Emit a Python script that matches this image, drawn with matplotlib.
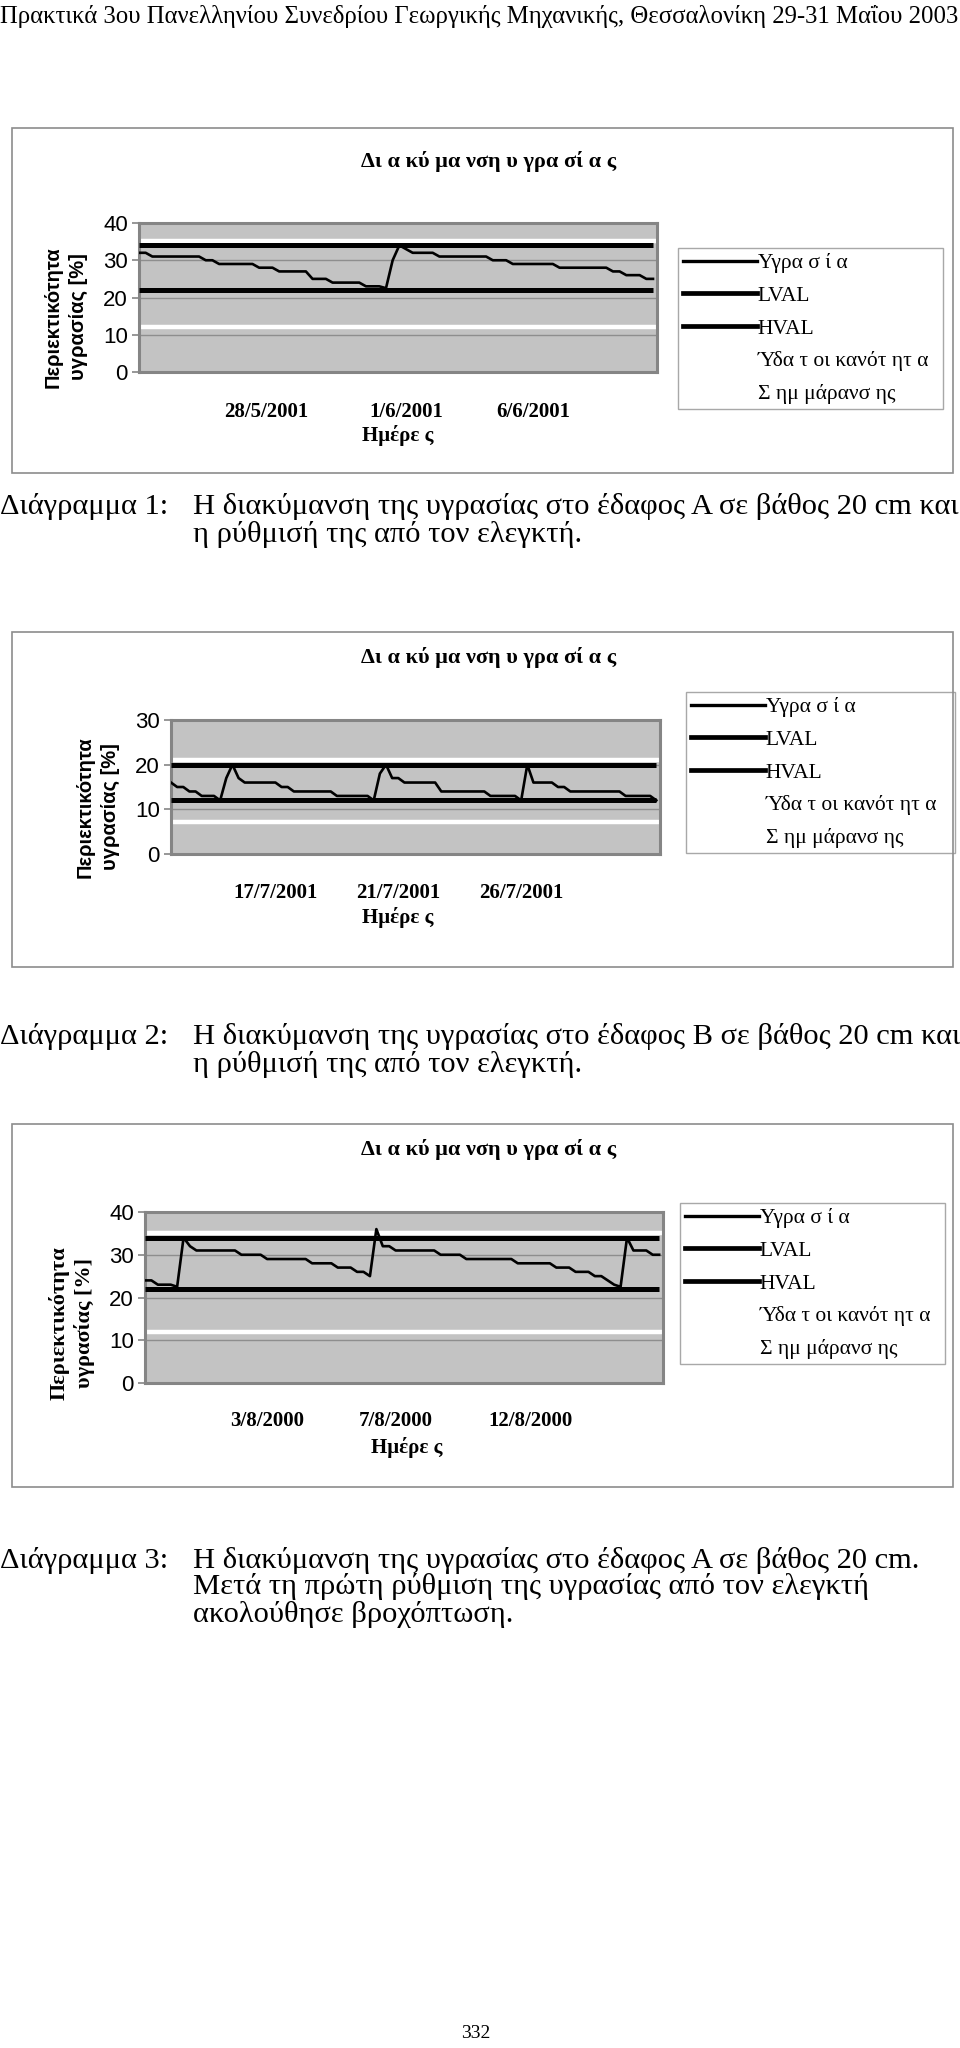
import matplotlib
matplotlib.use('Agg')
import matplotlib.pyplot as plt
from matplotlib.patches import Rectangle
from matplotlib.lines import Line2D

plt.rcParams['font.family'] = ['Liberation Serif', 'DejaVu Serif']

# ---------------- data ----------------
header_text = "Πρακτικά 3ου Πανελληνίου Συνεδρίου Γεωργικής Μηχανικής, Θεσσαλονίκη 29-31 Μαΐου 2003"
chart_title = "Δι α κύ μα νση υ γρα σί α ς"
ylabel_text = "Περιεκτικότητα\nυγρασίας [%]"
xlabel_text = "Ημέρε ς"
legend_labels = ["Υγρα σ ί α", "LVAL", "HVAL", "Ύδα τ οι κανότ ητ α", "Σ ημ μάρανσ ης"]

# Chart 1
m1 = [32, 32,
      31, 31, 31, 31, 31, 31, 31, 31,
      30, 30,
      29, 29, 29, 29, 29, 29,
      28, 28, 28,
      27, 27, 27, 27, 27,
      25, 25, 25,
      24, 24, 24, 24, 24,
      23, 23, 23,
      22.5, 30, 34, 33,
      32, 32, 32, 32,
      31, 31, 31, 31, 31, 31, 31, 31,
      30, 30, 30,
      29, 29, 29, 29, 29, 29, 29,
      28, 28, 28, 28, 28, 28, 28, 28,
      27, 27,
      26, 26, 26,
      25, 25]
c1_lval, c1_hval, c1_fc, c1_wp = 22, 34, 35.3, 12
c1_yticks = [0, 10, 20, 30, 40]
c1_tick_idx = [19, 40, 59]
c1_tick_lab = ["28/5/2001", "1/6/2001", "6/6/2001"]

# Chart 2
m2 = [16,
      15, 15,
      14, 14,
      13, 13, 13,
      12, 17, 20, 17,
      16, 16, 16, 16, 16, 16,
      15, 15,
      14, 14, 14, 14, 14, 14, 14,
      13, 13, 13, 13, 13, 13,
      12, 18, 20,
      17, 17,
      16, 16, 16, 16, 16, 16,
      14, 14, 14, 14, 14, 14, 14, 14,
      13, 13, 13, 13, 13,
      12, 20,
      16, 16, 16, 16,
      15, 15,
      14, 14, 14, 14, 14, 14, 14, 14, 14,
      13, 13, 13, 13, 13,
      12]
c2_lval, c2_hval, c2_fc, c2_wp = 12, 20, 21.1, 7.1
c2_yticks = [0, 10, 20, 30]
c2_tick_idx = [17, 37, 57]
c2_tick_lab = ["17/7/2001", "21/7/2001", "26/7/2001"]

# Chart 3
m3 = [24, 24,
      23, 23, 23,
      22.5, 34, 32,
      31, 31, 31, 31, 31, 31, 31,
      30, 30, 30, 30,
      29, 29, 29, 29, 29, 29, 29,
      28, 28, 28, 28,
      27, 27, 27,
      26, 26,
      25, 36,
      32, 32,
      31, 31, 31, 31, 31, 31, 31,
      30, 30, 30, 30,
      29, 29, 29, 29, 29, 29, 29, 29,
      28, 28, 28, 28, 28, 28,
      27, 27, 27,
      26, 26, 26,
      25, 25,
      24, 23, 22.5, 34,
      31, 31, 31,
      30, 30]
c3_lval, c3_hval, c3_fc, c3_wp = 22, 34, 35, 12
c3_yticks = [0, 10, 20, 30, 40]
c3_tick_idx = [19, 39, 60]
c3_tick_lab = ["3/8/2000", "7/8/2000", "12/8/2000"]

captions = [
    ("Διάγραμμα 1:", ["Η διακύμανση της υγρασίας στο έδαφος Α σε βάθος 20 cm και",
                      "η ρύθμισή της από τον ελεγκτή."]),
    ("Διάγραμμα 2:", ["Η διακύμανση της υγρασίας στο έδαφος Β σε βάθος 20 cm και",
                      "η ρύθμισή της από τον ελεγκτή."]),
    ("Διάγραμμα 3:", ["Η διακύμανση της υγρασίας στο έδαφος Α σε βάθος 20 cm.",
                      "Μετά τη πρώτη ρύθμιση της υγρασίας από τον ελεγκτή",
                      "ακολούθησε βροχόπτωση."]),
]
page_number = "332"

# ---------------- layout helpers ----------------
W, H = 960, 2048
fig = plt.figure(figsize=(W / 100, H / 100), dpi=100)
fig.patch.set_facecolor('white')
renderer = fig.canvas.get_renderer()


def fx(x):
    return x / W


def fy(y):
    return 1 - y / H


def ptext(x, y, s, **kw):
    kw.setdefault('va', 'center')
    return fig.text(fx(x), fy(y), s, **kw)


def fit_width(t, target):
    bb = t.get_window_extent(renderer)
    t.set_fontsize(t.get_fontsize() * target / bb.width)
    return t.get_fontsize()


def box(x0, y0, x1, y1, ec='#8c8c8c', lw=1.2):
    r = Rectangle((fx(x0), fy(y1)), fx(x1) - fx(x0), fy(y0) - fy(y1),
                  transform=fig.transFigure, fill=False, ec=ec, lw=lw)
    fig.add_artist(r)


# header
t = ptext(0, 17, header_text, ha='left', family='Liberation Serif', fontsize=18)
fit_width(t, 957)


def draw_chart(moist, lval, hval, fc, wp, yticks, tick_idx, tick_lab,
               frame, axpx, title_y, ylab_xy, ylab_family, ylab_size, ylab_ls,
               tick_y, xlab_xy, legpx):
    bx0, by0, bx1, by1 = frame
    box(bx0, by0, bx1, by1)
    tt = ptext((bx0 + bx1) / 2 + 6, title_y, chart_title, ha='center',
               family='Liberation Serif', weight='bold', fontsize=14)
    fit_width(tt, 255)

    x0, y0, x1, y1 = axpx
    ax = fig.add_axes([fx(x0), fy(y1), (x1 - x0) / W, (y1 - y0) / H])
    ax.set_facecolor('#c3c3c3')
    n = len(moist)
    xs = list(range(n))
    ax.set_xlim(0, n - 1 + 0.6)
    ax.set_ylim(yticks[0], yticks[-1])
    ax.set_yticks(yticks)
    ax.yaxis.grid(True, color='#8e8e8e', lw=1.0, zorder=1)
    ax.set_axisbelow(True)
    for sp in ax.spines.values():
        sp.set_color('#858585')
        sp.set_linewidth(2.2)

    ax.hlines(fc, xs[0], n - 1 + 0.6, color='white', lw=3.2, zorder=2)
    ax.hlines(wp, xs[0], n - 1 + 0.6, color='white', lw=3.2, zorder=2)
    ax.hlines(lval, xs[0], xs[-1], color='black', lw=3.6, zorder=3)
    ax.hlines(hval, xs[0], xs[-1], color='black', lw=3.6, zorder=3)
    ax.plot(xs, moist, color='black', lw=1.9, zorder=4)

    ax.tick_params(axis='y', length=5, width=1.2, color='#858585', pad=3,
                   labelsize=16)
    for lab in ax.get_yticklabels():
        lab.set_family('Liberation Sans')
    ax.set_xticks(tick_idx)
    ax.set_xticklabels(tick_lab, family='Liberation Serif', weight='bold',
                       fontsize=15)
    ax.tick_params(axis='x', length=0, pad=(tick_y - y1 - 8) * 0.72)

    ptext(ylab_xy[0], ylab_xy[1], ylabel_text, rotation=90, ha='center',
          family=ylab_family, weight='bold', fontsize=ylab_size,
          multialignment='center', linespacing=ylab_ls)
    ptext(xlab_xy[0], xlab_xy[1], xlabel_text, ha='center',
          family='Liberation Serif', weight='bold', fontsize=15)

    lx0, ly0, lx1, ly1 = legpx
    h_m = Line2D([], [], color='black', lw=2.4)
    h_lv = Line2D([], [], color='black', lw=3.4)
    h_hv = Line2D([], [], color='black', lw=3.4)
    h_fc = Line2D([], [], color='white', lw=3.0)
    h_wp = Line2D([], [], color='white', lw=3.0)
    leg = ax.legend([h_m, h_lv, h_hv, h_fc, h_wp], legend_labels,
                    loc='upper left',
                    bbox_to_anchor=(fx(lx0), fy(ly1), fx(lx1) - fx(lx0), fy(ly0) - fy(ly1)),
                    bbox_transform=fig.transFigure, mode='expand',
                    borderaxespad=0, prop={'family': 'Liberation Serif', 'size': 15.5},
                    handlelength=3.4, handletextpad=0.05, labelspacing=0.58,
                    borderpad=0.25, fancybox=False, framealpha=1)
    leg.get_frame().set_edgecolor('#a8a8a8')
    leg.get_frame().set_linewidth(1.0)
    return ax


draw_chart(m1, c1_lval, c1_hval, c1_fc, c1_wp, c1_yticks, c1_tick_idx, c1_tick_lab,
           frame=(12, 128, 953, 473), axpx=(139, 223, 657, 372), title_y=161,
           ylab_xy=(66, 317), ylab_family='Liberation Sans', ylab_size=14.5, ylab_ls=1.4,
           tick_y=410, xlab_xy=(398, 436), legpx=(678, 248, 943, 410))

draw_chart(m2, c2_lval, c2_hval, c2_fc, c2_wp, c2_yticks, c2_tick_idx, c2_tick_lab,
           frame=(12, 632, 953, 967), axpx=(171, 720, 660, 854), title_y=658,
           ylab_xy=(98, 807), ylab_family='Liberation Sans', ylab_size=14.5, ylab_ls=1.4,
           tick_y=891, xlab_xy=(398, 918), legpx=(686, 692, 955, 853))

draw_chart(m3, c3_lval, c3_hval, c3_fc, c3_wp, c3_yticks, c3_tick_idx, c3_tick_lab,
           frame=(12, 1124, 953, 1487), axpx=(145, 1212, 663, 1383), title_y=1150,
           ylab_xy=(72, 1323), ylab_family='Liberation Serif', ylab_size=16, ylab_ls=1.3,
           tick_y=1419, xlab_xy=(407, 1448), legpx=(680, 1203, 945, 1393))

# captions
probe = ptext(193, -100, captions[0][1][0], ha='left', family='Liberation Serif', fontsize=20)
cap_size = fit_width(probe, 764)
probe.remove()

cap_rows = [[507, 534], [1036, 1064], [1560, 1587, 1614]]
for (lab, lines), ys in zip(captions, cap_rows):
    ptext(0, ys[0], lab, ha='left', family='Liberation Serif', fontsize=cap_size)
    for ln, yy in zip(lines, ys):
        ptext(193, yy, ln, ha='left', family='Liberation Serif', fontsize=cap_size)

ptext(476, 2033, page_number, ha='center', family='Liberation Serif', fontsize=14)

fig.savefig('out.png', dpi=100, facecolor='white')
